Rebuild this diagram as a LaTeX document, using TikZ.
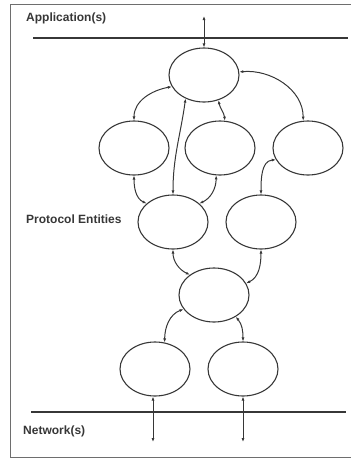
\documentclass[tikz,border=0pt]{standalone}
\usepackage{fontspec}
\setmainfont{Liberation Sans}
\usepackage{tikz}
\usetikzlibrary{arrows.meta,shapes.geometric}
\usepackage{xcolor}
\definecolor{ink}{RGB}{55,55,55}
\definecolor{frame}{RGB}{110,110,110}

\tikzset{
  entity/.style={ellipse,draw=ink,line width=1.1pt,minimum width=70pt,minimum height=54pt,inner sep=0pt},
  link/.style={draw=ink,line width=1pt,{Latex[length=4pt,width=3pt]}-{Latex[length=4pt,width=3pt]}},
  bus/.style={draw=ink,line width=2.6pt},
  tag/.style={font=\fontsize{12}{14}\selectfont\bfseries,anchor=west,inner sep=0pt,text=ink}
}

\begin{document}
\begin{tikzpicture}[x=1pt,y=-1pt]
\useasboundingbox (0,0) rectangle (351,459);
\draw[frame,line width=1pt] (355,4) -- (10,4) -- (10,457) -- (355,457);
\draw[bus] (33,38) -- (348,38);
\draw[bus] (31,412) -- (346,412);
\node[tag] (apptag) at (26,18) {Application(s)};
\node[tag] (prottag) at (26,219) {Protocol Entities};
\node[tag] (nettag) at (23,431) {Network(s)};

\node[entity] (top) at (204,75) {};
\node[entity] (left) at (134,148) {};
\node[entity] (centre) at (220,148) {};
\node[entity] (right) at (308,148) {};
\node[entity] (lowleft) at (173,222) {};
\node[entity] (lowright) at (261,222) {};
\node[entity] (mux) at (214,295) {};
\node[entity] (netleft) at (155,369) {};
\node[entity] (netright) at (243,369) {};
\coordinate (app) at (204,16);
\coordinate (netA) at (153,442);
\coordinate (netB) at (243,442);

\draw[link] (top.north) -- (app);
\draw[link] (top.200) to[out=190,in=90] (left.north);
\draw[link] (top.232) to[out=262,in=90] (lowleft.north);
\draw[link] (top.300) to[out=280,in=95] (centre.80);
\draw[link] (top.5) to[out=5,in=90] (right.100);
\draw[link] (left.south) to[out=-90,in=155] (lowleft.145);
\draw[link] (centre.262) to[out=-90,in=25] (lowleft.35);
\draw[link] (right.200) to[out=185,in=90] (lowright.north);
\draw[link] (lowleft.south) to[out=-90,in=155] (mux.140);
\draw[link] (lowright.south) to[out=-90,in=25] (mux.20);
\draw[link] (mux.205) to[out=200,in=90] (netleft.70);
\draw[link] (mux.315) to[out=-50,in=90] (netright.north);
\draw[link] (netleft.south -| netA) -- (netA);
\draw[link] (netright.south) -- (netB);
\end{tikzpicture}
\end{document}
